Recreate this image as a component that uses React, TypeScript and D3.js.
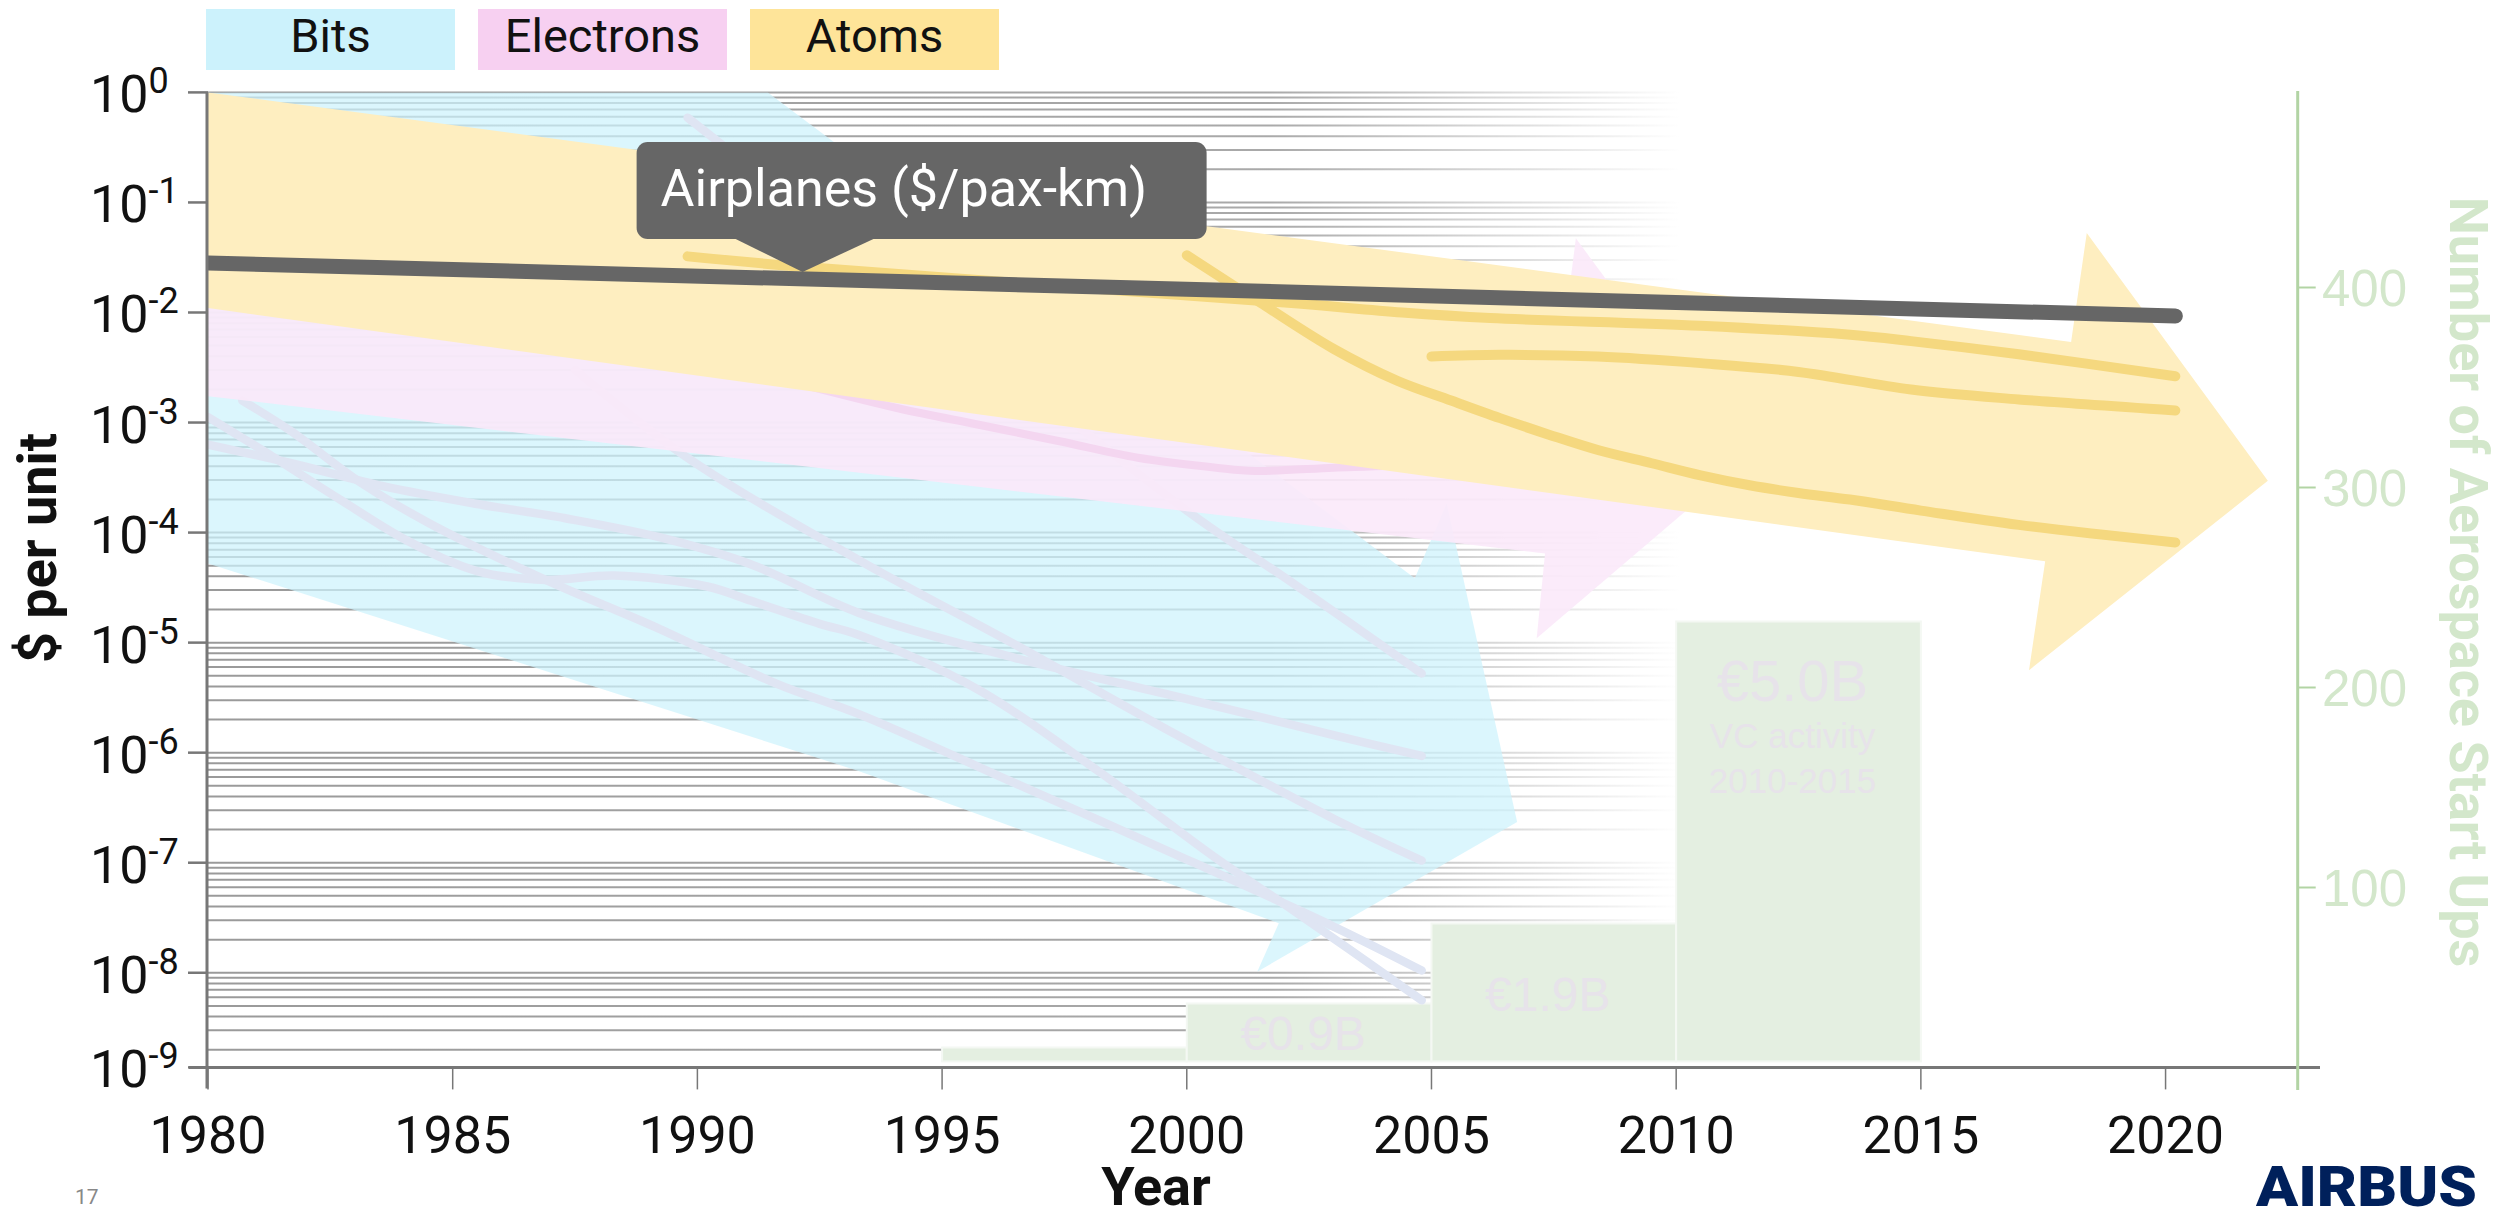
import * as d3 from "d3";

const WIDTH = 2509;
const HEIGHT = 1214;

// axis frame (px)
const PLOT = { left: 208, right: 2297.7, top: 92.4, bottom: 1067.4 };
const YEAR_DOMAIN = [1980, 2022.7];
const LOG_MIN = -8.86; // lowest visible decade fraction, labelled 10^-9

const xTickYears = [1980, 1985, 1990, 1995, 2000, 2005, 2010, 2015, 2020];
const yTickExponents = [0, -1, -2, -3, -4, -5, -6, -7, -8];
const rightTickValues = [100, 200, 300, 400];

const legendLabels = ["Bits", "Electrons", "Atoms"];
const legendColors = ["#ccf2fc", "#f7d0f1", "#fee499"];

// [year, log10($ per unit)]
const bitsSeries: number[][][] = [
  [[1989.8, -0.23], [1995, -2.05], [2000, -3.8], [2002.2, -4.47], [2004.8, -5.28]],
  [[1987.5, -2.52], [1989.7, -3.29], [1993.3, -4.25], [1996.5, -5.02], [1999.8, -5.84], [2003, -6.6], [2004.8, -6.98]],
  [[1980, -3.2], [1981.7, -3.37], [1983.6, -3.58], [1985.5, -3.74], [1987.3, -3.87], [1989.2, -4.04], [1991.1, -4.29],
   [1993.3, -4.73], [1996.5, -5.14], [1999.8, -5.49], [2003, -5.84], [2004.8, -6.03]],
  [[1980, -2.95], [1981.25, -3.29], [1982.7, -3.7], [1984.1, -4.08], [1985.5, -4.35], [1986.9, -4.43], [1988.3, -4.39],
   [1990.2, -4.49], [1991.1, -4.62], [1992.5, -4.83], [1993.3, -4.93], [1995.75, -5.43], [1998.2, -6.17],
   [2000.6, -6.96], [2002.2, -7.44], [2004.8, -8.25]],
  [[1980.7, -2.8], [1981.7, -3.08], [1983.1, -3.54], [1984.5, -3.91], [1986.9, -4.43], [1989.2, -4.87], [1991.6, -5.37],
   [1993.3, -5.65], [1996.5, -6.28], [1999.8, -6.93], [2003, -7.58], [2004.8, -7.98]],
];

const electronsSeries: number[][][] = [
  [[1991.5, -2.58], [1994.1, -2.87], [1995.75, -3.02], [1997.4, -3.17], [1999, -3.32], [2000.6, -3.41],
   [2001.4, -3.44], [2003, -3.41], [2004.2, -3.39], [2008, -3.25]],
];

const atomsSeries: number[][][] = [
  [[1989.8, -1.49], [1992, -1.58], [2002, -1.91], [2004.4, -2.0], [2006.2, -2.05], [2010.5, -2.12], [2013.5, -2.2],
   [2014.8, -2.26], [2017, -2.38], [2020.2, -2.58]],
  [[2000, -1.48], [2001.5, -1.91], [2003, -2.33], [2004.3, -2.62], [2005.4, -2.8], [2006.4, -2.96], [2007.4, -3.11],
   [2008.4, -3.25], [2009.5, -3.37], [2010.5, -3.48], [2011.5, -3.57], [2012.5, -3.64], [2013.55, -3.7],
   [2015, -3.8], [2017, -3.93], [2020.2, -4.09]],
  [[2005, -2.4], [2006.4, -2.385], [2008.4, -2.4], [2010.5, -2.46], [2012.5, -2.54], [2014.8, -2.7], [2017, -2.79],
   [2020.2, -2.89]],
];

const airplaneYears = [1980, 2020.2];
const airplaneCost = [0.0282, 0.0093];

// trend arrows, outline in [year, log10] space
const bitsArrow = [[1980, 0], [1991.44, 0], [2004.66, -4.415], [2005.31, -3.734], [2006.75, -6.63],
  [2001.44, -7.99], [2001.88, -7.55], [1993.32, -6.17], [1980, -4.28]];
const electronsArrow = [[1980, -1.43], [2007.79, -1.886], [2007.95, -1.326], [2011.34, -3.37],
  [2007.15, -4.96], [2007.32, -4.19], [1980, -2.76]];
const atomsArrow = [[1980, 0], [2018.07, -2.268], [2018.39, -1.278], [2022.09, -3.53],
  [2017.21, -5.25], [2017.54, -4.26], [1980, -1.96]];

// aerospace start ups (right axis)
const barStart = [1995, 2000, 2005, 2010];
const barEnd = [2000, 2005, 2010, 2015];
const startUps = [20, 42, 82, 233];
const vcLabels = ["", "€0.9B", "€1.9B", "€5.0B"];
const vcNote = ["VC activity", "2010-2015"];

const FONT = "Roboto, 'Noto Sans', sans-serif";
const ARIAL = "'Liberation Sans', Arial, sans-serif";
const GREEN_TEXT = "#d3e7cb";

export default function App() {
  const x = d3.scaleLinear().domain(YEAR_DOMAIN).range([PLOT.left, PLOT.right]);
  const y = d3.scaleLog().domain([10 ** LOG_MIN, 1]).range([PLOT.bottom, PLOT.top]);
  const yRight = d3.scaleLinear().domain([0, 500]).range([1087.5, 87.5]);

  const smooth = d3
    .line<number[]>()
    .x((d) => x(d[0]))
    .y((d) => y(10 ** d[1]))
    .curve(d3.curveCatmullRom.alpha(0.5));
  const outline = d3
    .line<number[]>()
    .x((d) => x(d[0]))
    .y((d) => y(10 ** d[1]))
    .curve(d3.curveLinearClosed);
  const straight = d3
    .line<number>()
    .x((_, i) => x(airplaneYears[i]))
    .y((d) => y(d));

  // minor log grid
  const gridValues: number[] = [];
  for (let e = -9; e < 0; e++) {
    for (let m = 1; m < 10; m++) {
      const v = m * 10 ** e;
      if (v >= 10 ** LOG_MIN) gridValues.push(v);
    }
  }
  gridValues.push(1);

  const yTicks = [...yTickExponents.map((e) => 10 ** e), 10 ** LOG_MIN];

  // airplane call-out anchored on the line
  const tipYear = 1992.15;
  const lineAt = (yr: number) => {
    const t = (yr - airplaneYears[0]) / (airplaneYears[1] - airplaneYears[0]);
    return 10 ** (Math.log10(airplaneCost[0]) + t * (Math.log10(airplaneCost[1]) - Math.log10(airplaneCost[0])));
  };
  const tipX = x(tipYear);
  const tipY = y(lineAt(tipYear)) - 7;
  const boxL = tipX - 166;
  const boxT = tipY - 130;
  const barBase = PLOT.bottom - 6;
  const labelDy = [0, 46, 87, 79];

  return (
    <div style={{ position: "absolute", left: 0, top: 0 }}>
      <svg width={WIDTH} height={HEIGHT} style={{ display: "block", background: "#fff" }}>
        <defs>
          <linearGradient id="gridFade" gradientUnits="userSpaceOnUse" x1={PLOT.left} x2={1680} y1={0} y2={0}>
            <stop offset="0" stopColor="#9a9a9a" stopOpacity={1} />
            <stop offset="0.72" stopColor="#9a9a9a" stopOpacity={0.85} />
            <stop offset="1" stopColor="#9a9a9a" stopOpacity={0} />
          </linearGradient>
          <clipPath id="plotClip">
            <rect x={PLOT.left} y={PLOT.top} width={PLOT.right - PLOT.left} height={PLOT.bottom - PLOT.top} />
          </clipPath>
        </defs>

        {/* legend */}
        {legendLabels.map((lab, i) => (
          <g key={lab} transform={`translate(${206 + i * 272},9)`}>
            <rect width={249} height={61} fill={legendColors[i]} />
            <text x={124.5} y={43} textAnchor="middle" fontFamily={FONT} fontSize={47} fill="#111">
              {lab}
            </text>
          </g>
        ))}

        {/* grid */}
        <g>
          {gridValues.map((v, i) => (
            <line key={i} x1={PLOT.left} x2={1690} y1={y(v)} y2={y(v)} stroke="url(#gridFade)" strokeWidth={2} />
          ))}
        </g>

        {/* start-up bars */}
        <g>
          {startUps.map((v, i) => (
            <rect
              key={i}
              x={x(barStart[i])}
              y={yRight(v)}
              width={x(barEnd[i]) - x(barStart[i])}
              height={barBase - yRight(v)}
              fill="#e4efe1"
              stroke="#f4f8f3"
              strokeWidth={2}
            />
          ))}
          {vcLabels.map((lab, i) =>
            lab ? (
              <text
                key={lab}
                x={(x(barStart[i]) + x(barEnd[i])) / 2 - 6}
                y={yRight(startUps[i]) + labelDy[i]}
                textAnchor="middle"
                fontFamily={ARIAL}
                fontSize={i === 3 ? 58 : 48}
                fill="#e7e3ea"
              >
                {lab}
              </text>
            ) : null
          )}
          {vcNote.map((t, j) => (
            <text
              key={t}
              x={(x(barStart[3]) + x(barEnd[3])) / 2 - 6}
              y={yRight(startUps[3]) + 126 + j * 45}
              textAnchor="middle"
              fontFamily={ARIAL}
              fontSize={35}
              fill="#e7e3ea"
            >
              {t}
            </text>
          ))}
        </g>

        <g clipPath="url(#plotClip)">
          <path d={outline(bitsArrow) ?? ""} fill="#cdf2fc" fillOpacity={0.72} />
          {bitsSeries.map((s, i) => (
            <path key={i} d={smooth(s) ?? ""} fill="none" stroke="#dfe5f3" strokeWidth={8.5} strokeLinecap="round" />
          ))}
          <path d={outline(electronsArrow) ?? ""} fill="#fbe9f9" fillOpacity={0.9} />
          {electronsSeries.map((s, i) => (
            <path key={i} d={smooth(s) ?? ""} fill="none" stroke="#f4d6f0" strokeWidth={8} strokeLinecap="round" />
          ))}
          <path d={outline(atomsArrow) ?? ""} fill="#feeec0" />
          {atomsSeries.map((s, i) => (
            <path key={i} d={smooth(s) ?? ""} fill="none" stroke="#f5d87f" strokeWidth={10} strokeLinecap="round" />
          ))}
          <path d={straight(airplaneCost) ?? ""} fill="none" stroke="#666" strokeWidth={15} strokeLinecap="round" />
        </g>

        {/* airplane call-out */}
        <g>
          <rect x={boxL} y={boxT} width={570} height={97} rx={11} fill="#666" />
          <path d={`M${tipX - 69},${boxT + 96} L${tipX + 73},${boxT + 96} L${tipX},${tipY} Z`} fill="#666" />
          <text x={boxL + 24} y={boxT + 64} fontFamily={FONT} fontSize={52} fill="#fff">
            Airplanes ($/pax-km)
          </text>
        </g>

        {/* left axis */}
        <g>
          <line x1={PLOT.left - 1} x2={PLOT.left - 1} y1={PLOT.top} y2={PLOT.bottom + 21} stroke="#777" strokeWidth={3} />
          <line x1={189} x2={2320} y1={PLOT.bottom} y2={PLOT.bottom} stroke="#777" strokeWidth={3} />
          {yTicks.map((v) => {
            const e = Math.round(Math.log10(v));
            return (
              <g key={e} transform={`translate(0,${y(v)})`}>
                <line x1={188} x2={PLOT.left} stroke="#777" strokeWidth={2.5} />
                <text x={90} y={20} fontFamily={FONT} fontSize={52} fill="#111">
                  10
                  <tspan fontSize={36} dy={-19}>
                    {e === 0 ? "0" : `-${-e}`}
                  </tspan>
                </text>
              </g>
            );
          })}
          <text
            transform="translate(56,548) rotate(-90)"
            textAnchor="middle"
            fontFamily={FONT}
            fontWeight={700}
            fontSize={54}
            fill="#111"
          >
            $ per unit
          </text>
        </g>

        {/* bottom axis */}
        <g>
          {xTickYears.map((yr) => (
            <g key={yr} transform={`translate(${x(yr)},0)`}>
              <line y1={PLOT.bottom} y2={PLOT.bottom + 22} stroke="#777" strokeWidth={1.5} />
              <text y={1153} textAnchor="middle" fontFamily={FONT} fontSize={52} fill="#111">
                {yr}
              </text>
            </g>
          ))}
          <text x={1156} y={1205} textAnchor="middle" fontFamily={FONT} fontWeight={700} fontSize={54} fill="#111">
            Year
          </text>
        </g>

        {/* right axis */}
        <g>
          <line x1={PLOT.right} x2={PLOT.right} y1={91} y2={1090} stroke="#b2d4a4" strokeWidth={3} />
          {rightTickValues.map((v) => (
            <g key={v} transform={`translate(0,${yRight(v)})`}>
              <line x1={PLOT.right} x2={PLOT.right + 18} stroke="#b2d4a4" strokeWidth={2} />
              <text x={2322} y={18} fontFamily={ARIAL} fontSize={51} fill={GREEN_TEXT}>
                {v}
              </text>
            </g>
          ))}
          <text
            transform="translate(2450,582) rotate(90)"
            textAnchor="middle"
            fontFamily={FONT}
            fontWeight={700}
            fontSize={54}
            fill={GREEN_TEXT}
          >
            Number of Aerospace Start Ups
          </text>
        </g>

        {/* footer */}
        <text x={75} y={1204} fontFamily={FONT} fontSize={21} fill="#888">
          17
        </text>
        <text
          x={2256}
          y={1206}
          fontFamily={FONT}
          fontWeight={900}
          fontSize={56}
          fill="#00205b"
          textLength={221}
          lengthAdjust="spacingAndGlyphs"
        >
          AIRBUS
        </text>
      </svg>
    </div>
  );
}
